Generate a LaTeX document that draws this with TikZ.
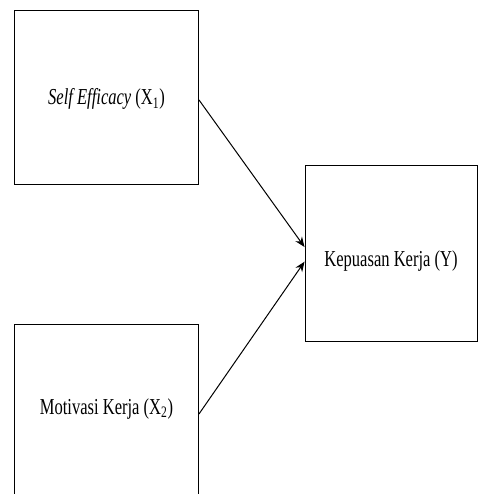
\documentclass[tikz,border=0pt]{standalone}
\usepackage{fontspec}
\setmainfont{Liberation Serif}
\usepackage{tikz}
\usetikzlibrary{positioning,arrows.meta}

\newcommand{\tallt}[1]{\scalebox{1}[1.38]{#1}}

\begin{document}
\begin{tikzpicture}[x=0.75pt, y=-0.75pt,
    every node/.style={font=\fontsize{12.4}{14}\selectfont},
    varbox/.style={draw, line width=0.7pt, minimum width=138pt, minimum height=131pt, inner sep=0pt, text depth=0pt},
    path/.style={line width=0.75pt, -{Stealth[length=7.5pt,width=6pt]}}]

% Frame
\clip (0,0) rectangle (478,494);

% Variables
\node[varbox, text height=11.2pt] (x1) at (106.5,97.5) {\tallt{\textit{Self Efficacy} (X\textsubscript{1})}};
\node[varbox, minimum height=135pt, text height=5pt, text depth=5pt] (x2) at (106.5,414) {\tallt{Motivasi Kerja (X\textsubscript{2})}};
\node[varbox, minimum width=129pt, minimum height=132pt, text height=19.5pt] (y) at (391,253) {\tallt{Kepuasan Kerja (Y)}};

% Paths
\draw[path] ([yshift=-1.8pt]x1.east) -- ([yshift=4.5pt]y.west);
\draw[path] (x2.east) -- ([yshift=-6.5pt]y.west);

\end{tikzpicture}
\end{document}
